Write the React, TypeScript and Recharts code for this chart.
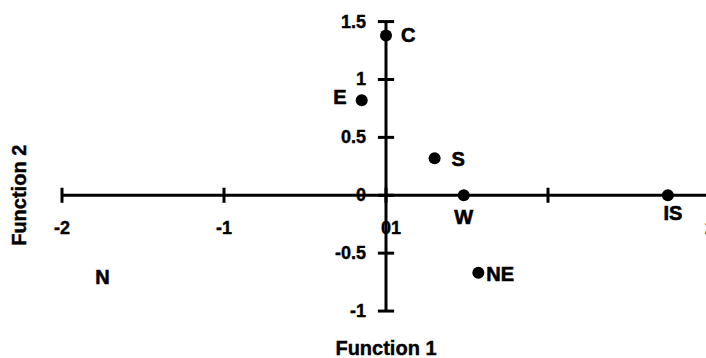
import React from "react";
import { ScatterChart, Scatter, XAxis, YAxis, ReferenceLine, ReferenceDot } from "recharts";

const groupNames = ["C", "E", "S", "W", "IS", "NE", "N"];
const function1Scores = [0.0, -0.15, 0.3, 0.48, 1.74, 0.57, -1.75];
const function2Scores = [1.38, 0.82, 0.32, 0, 0, -0.67, -0.71];
const markerShown = [true, true, true, true, true, true, false];

const xTickValues = [-2, -1, 0, 1, 2];
const xTickLabels = ["-2", "-1", "01", "", "2"];
const yTickValues = [1.5, 1, 0.5, 0, -0.5, -1];
const yTickLabels = ["1.5", "1", "0.5", "0", "-0.5", "-1"];

const xAxisTitle = "Function 1";
const yAxisTitle = "Function 2";

const FONT = "'Liberation Sans', Arial, Helvetica, sans-serif";

const labelLayout: Record<string, { dx: number; dy: number; anchor: "start" | "middle" | "end" }> = {
  C: { dx: 15, dy: 0, anchor: "start" },
  E: { dx: -15, dy: -3, anchor: "end" },
  S: { dx: 17, dy: 1, anchor: "start" },
  W: { dx: 0, dy: 22, anchor: "middle" },
  IS: { dx: 5, dy: 18, anchor: "middle" },
  NE: { dx: 8, dy: 1, anchor: "start" },
  N: { dx: 0, dy: 0, anchor: "middle" },
};

const points = groupNames.map((name, i) => ({
  name,
  x: function1Scores[i],
  y: function2Scores[i],
  marker: markerShown[i],
}));

const PointShape = (props: any) => {
  const { cx, cy, payload } = props;
  const lay = labelLayout[payload.name];
  return (
    <g>
      {payload.marker && <circle cx={cx} cy={cy} r={6} fill="#000" />}
      <text
        x={cx + lay.dx}
        y={cy + lay.dy}
        textAnchor={lay.anchor}
        dominantBaseline="central"
        fontFamily={FONT}
        fontWeight="bold"
        fontSize={20}
        fill="#000"
        stroke="#000"
        strokeWidth={0.6}
      >
        {payload.name}
      </text>
    </g>
  );
};

const X_TICK_HALF = 0.065;
const Y_TICK_HALF = 0.05;

export default function App() {
  return (
    <div style={{ position: "absolute", left: 0, top: 0, width: 706, height: 358, overflow: "hidden", background: "#fff" }}>
      <ScatterChart width={720} height={358} margin={{ top: 10, right: 10, bottom: 18, left: 62 }}>
        <XAxis type="number" dataKey="x" domain={[-2, 2]} allowDataOverflow hide />
        <YAxis type="number" dataKey="y" domain={[-1.25, 1.6]} allowDataOverflow hide />
        <ReferenceLine
          segment={[{ x: -2, y: 0 }, { x: 2, y: 0 }]}
          stroke="#000"
          strokeWidth={3}
          ifOverflow="visible"
        />
        <ReferenceLine
          segment={[{ x: 0, y: -1 }, { x: 0, y: 1.5 }]}
          stroke="#000"
          strokeWidth={3}
          ifOverflow="visible"
        />
        {xTickValues.map((v) => (
          <ReferenceLine
            key={"xt" + v}
            segment={[{ x: v, y: -X_TICK_HALF }, { x: v, y: X_TICK_HALF }]}
            stroke="#000"
            strokeWidth={3}
            ifOverflow="visible"
          />
        ))}
        {yTickValues.map((v) => (
          <ReferenceLine
            key={"yt" + v}
            segment={[{ x: -Y_TICK_HALF, y: v }, { x: Y_TICK_HALF, y: v }]}
            stroke="#000"
            strokeWidth={3}
            ifOverflow="visible"
          />
        ))}
        {xTickValues.map((v, i) => (
          <ReferenceDot
            key={"xl" + v}
            x={v}
            y={0}
            r={0}
            ifOverflow="visible"
            shape={(p: any) => (
              <text
                x={p.cx + (xTickLabels[i] === "01" ? 5 : 0)}
                y={p.cy + 33}
                textAnchor="middle"
                dominantBaseline="central"
                fontFamily={FONT}
                fontWeight="bold"
                fontSize={18}
                fill="#000"
                stroke="#000"
                strokeWidth={0.4}
              >
                {xTickLabels[i]}
              </text>
            )}
          />
        ))}
        {yTickValues.map((v, i) => (
          <ReferenceDot
            key={"yl" + v}
            x={0}
            y={v}
            r={0}
            ifOverflow="visible"
            shape={(p: any) => (
              <text
                x={p.cx - 20}
                y={p.cy}
                textAnchor="end"
                dominantBaseline="central"
                fontFamily={FONT}
                fontWeight="bold"
                fontSize={18}
                fill="#000"
                stroke="#000"
                strokeWidth={0.4}
              >
                {yTickLabels[i]}
              </text>
            )}
          />
        ))}
        <ReferenceDot
          x={0}
          y={-1}
          r={0}
          ifOverflow="visible"
          shape={(p: any) => (
            <text
              x={p.cx}
              y={p.cy + 37}
              textAnchor="middle"
              dominantBaseline="central"
              fontFamily={FONT}
              fontWeight="bold"
              fontSize={20}
              fill="#000"
              stroke="#000"
              strokeWidth={0.4}
            >
              {xAxisTitle}
            </text>
          )}
        />
        <ReferenceDot
          x={-2}
          y={0}
          r={0}
          ifOverflow="visible"
          shape={(p: any) => (
            <text
              x={p.cx - 43}
              y={p.cy}
              transform={`rotate(-90 ${p.cx - 43} ${p.cy})`}
              textAnchor="middle"
              dominantBaseline="central"
              fontFamily={FONT}
              fontWeight="bold"
              fontSize={20}
              fill="#000"
              stroke="#000"
              strokeWidth={0.4}
            >
              {yAxisTitle}
            </text>
          )}
        />
        <Scatter data={points} shape={PointShape} isAnimationActive={false} />
      </ScatterChart>
    </div>
  );
}
